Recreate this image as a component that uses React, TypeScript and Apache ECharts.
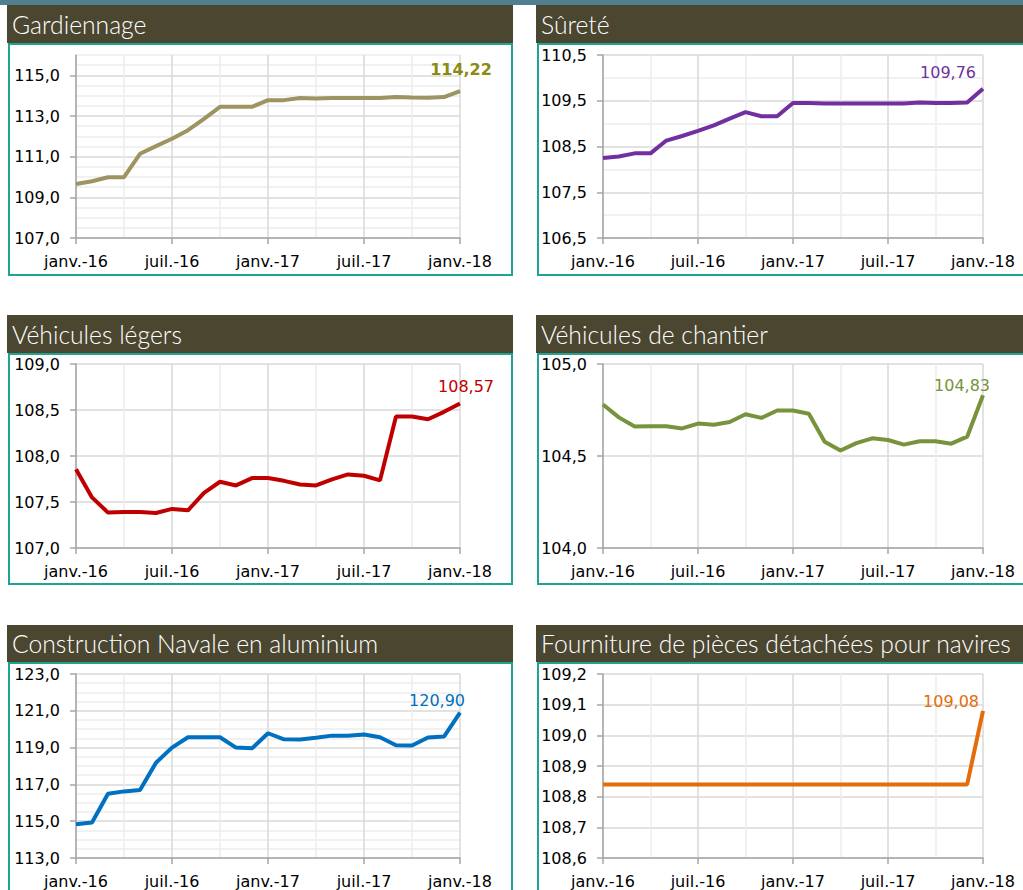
import React, { useEffect, useRef } from "react";
import * as echarts from "echarts";

const months = [
  "janv.-16", "févr.-16", "mars-16", "avr.-16", "mai-16", "juin-16",
  "juil.-16", "août-16", "sept.-16", "oct.-16", "nov.-16", "déc.-16",
  "janv.-17", "févr.-17", "mars-17", "avr.-17", "mai-17", "juin-17",
  "juil.-17", "août-17", "sept.-17", "oct.-17", "nov.-17", "déc.-17",
  "janv.-18",
];

const titles = [
  "Gardiennage",
  "Sûreté",
  "Véhicules légers",
  "Véhicules de chantier",
  "Construction Navale en aluminium",
  "Fourniture de pièces détachées pour navires",
];

const gardiennage = [109.66, 109.79, 109.99, 109.99, 111.14, 111.52, 111.88, 112.3, 112.86, 113.45, 113.45, 113.45, 113.78, 113.78, 113.88, 113.86, 113.88, 113.88, 113.88, 113.88, 113.93, 113.91, 113.9, 113.93, 114.22];
const surete = [108.25, 108.28, 108.35, 108.35, 108.63, 108.73, 108.84, 108.96, 109.11, 109.25, 109.16, 109.16, 109.45, 109.45, 109.44, 109.44, 109.44, 109.44, 109.44, 109.44, 109.46, 109.45, 109.45, 109.46, 109.76];
const vehiculesLegers = [107.855, 107.55, 107.385, 107.39, 107.39, 107.38, 107.425, 107.41, 107.6, 107.72, 107.68, 107.76, 107.76, 107.73, 107.69, 107.68, 107.745, 107.8, 107.785, 107.735, 108.43, 108.43, 108.4, 108.48, 108.57];
const vehiculesChantier = [104.78, 104.71, 104.66, 104.662, 104.662, 104.65, 104.676, 104.67, 104.685, 104.727, 104.707, 104.747, 104.747, 104.73, 104.578, 104.53, 104.57, 104.596, 104.587, 104.562, 104.58, 104.58, 104.567, 104.605, 104.83];
const constructionNavale = [114.84, 114.93, 116.49, 116.62, 116.69, 118.18, 119.0, 119.56, 119.56, 119.56, 119.0, 118.96, 119.78, 119.45, 119.44, 119.53, 119.65, 119.64, 119.71, 119.56, 119.13, 119.11, 119.55, 119.6, 120.9];
const fourniture = [108.84, 108.84, 108.84, 108.84, 108.84, 108.84, 108.84, 108.84, 108.84, 108.84, 108.84, 108.84, 108.84, 108.84, 108.84, 108.84, 108.84, 108.84, 108.84, 108.84, 108.84, 108.84, 108.84, 108.84, 109.08];

const seriesData = [gardiennage, surete, vehiculesLegers, vehiculesChantier, constructionNavale, fourniture];

// y-axis scales
const yMin = [107, 106.5, 107, 104, 113, 108.6];
const yMax = [116, 110.5, 109, 105, 123, 109.2];
const yInterval = [2, 1, 0.5, 0.5, 2, 0.1];
const yGridInterval = [0.5, 0.5, 0.5, 0.5, 0.5, 0.1];

const lineColors = ["#9d9462", "#7030a0", "#c00000", "#77933c", "#0070c0", "#e46c0a"];
const labelColors = ["#8b8a12", "#7030a0", "#c00000", "#77933c", "#0070c0", "#e46c0a"];

// layout
const colPlot = [
  { left: 76, width: 384 },
  { left: 603, width: 380 },
];
const rowPlot = [
  { top: 55, height: 183 },
  { top: 364, height: 184 },
  { top: 674, height: 184 },
];
const rowHeader = [
  { y: 5, h: 38 },
  { y: 315, h: 38 },
  { y: 625, h: 37 },
];
const rowBox = [
  { y: 44, h: 231 },
  { y: 354, h: 230 },
  { y: 663, h: 260 },
];
const colHeader = [
  { x: 7, w: 506 },
  { x: 536, w: 490 },
];
const colBox = [
  { x: 9, w: 503 },
  { x: 538, w: 500 },
];
const labelOffsets = [
  [1, -22],
  [-35, -16],
  [6, -17],
  [-21, -10],
  [-23, -12],
  [-32, -9],
];

const AXIS_FONT = "DejaVu Sans";
const TITLE_FONT = "Lato";
const GRID_MAJOR = "#d9d9d9";
const GRID_MINOR = "#ececec";
const AXIS_COLOR = "#a6a6a6";
const FONT_SIZE = 16;

function fmt(v: number, d: number) {
  return v.toFixed(d).replace(".", ",");
}

function buildOption() {
  const grid: any[] = [];
  const xAxis: any[] = [];
  const yAxis: any[] = [];
  const series: any[] = [];
  const graphic: any[] = [
    { type: "rect", shape: { x: 0, y: 0, width: 1023, height: 5 }, style: { fill: "#4f7f8e" }, silent: true },
  ];

  for (let i = 0; i < 6; i++) {
    const r = Math.floor(i / 2);
    const c = i % 2;
    graphic.push({
      type: "rect",
      shape: { x: colHeader[c].x, y: rowHeader[r].y, width: colHeader[c].w, height: rowHeader[r].h },
      style: { fill: "#4b4630" },
      silent: true,
    });
    graphic.push({
      type: "rect",
      shape: { x: colBox[c].x, y: rowBox[r].y, width: colBox[c].w, height: rowBox[r].h },
      style: { fill: "none", stroke: "#1fa393", lineWidth: 2 },
      silent: true,
    });
    graphic.push({
      type: "text",
      x: colHeader[c].x + 5,
      y: rowHeader[r].y + rowHeader[r].h / 2,
      style: {
        text: titles[i],
        fill: "#ffffff",
        font: `300 24.7px ${TITLE_FONT}`,
        verticalAlign: "middle",
        align: "left",
      },
      silent: true,
    });

    grid.push({
      left: colPlot[c].left,
      width: colPlot[c].width,
      top: rowPlot[r].top,
      height: rowPlot[r].height,
      containLabel: false,
    });

    xAxis.push({
      type: "category",
      gridIndex: i,
      data: months,
      boundaryGap: false,
      axisLine: { show: true, lineStyle: { color: AXIS_COLOR, width: 1.5 } },
      axisTick: { show: true, interval: (idx: number) => idx % 6 === 0, length: 6, lineStyle: { color: AXIS_COLOR, width: 1.5 } },
      axisLabel: {
        interval: (idx: number) => idx % 6 === 0,
        color: "#000",
        fontFamily: AXIS_FONT,
        fontSize: FONT_SIZE,
        margin: 15,
      },
      splitLine: {
        show: true,
        interval: (idx: number) => idx % 3 === 0,
        lineStyle: { color: [GRID_MAJOR, GRID_MINOR], width: 1.5 },
      },
    });

    yAxis.push({
      type: "value",
      gridIndex: i,
      min: yMin[i],
      max: yMax[i],
      interval: yInterval[i],
      position: "left",
      axisLine: { show: true, lineStyle: { color: AXIS_COLOR, width: 1.5 } },
      axisTick: { show: true, length: 6, lineStyle: { color: AXIS_COLOR, width: 1.5 } },
      axisLabel: {
        color: "#000",
        fontFamily: AXIS_FONT,
        fontSize: FONT_SIZE,
        margin: 16,
        showMaxLabel: i === 0 ? false : true,
        formatter: (v: number) => fmt(v, 1),
      },
      splitLine: { show: false },
      z: 3,
    });
    const ratio = Math.round(yInterval[i] / yGridInterval[i]);
    const pattern: string[] = [GRID_MAJOR];
    for (let k = 1; k < ratio; k++) pattern.push(GRID_MINOR);
    yAxis.push({
      type: "value",
      gridIndex: i,
      min: yMin[i],
      max: yMax[i],
      interval: yGridInterval[i],
      axisLine: { show: false },
      axisTick: { show: false },
      axisLabel: { show: false },
      splitLine: { show: true, lineStyle: { color: pattern, width: 1.5 } },
    });

    const vals = seriesData[i];
    const last = vals.length - 1;
    series.push({
      type: "line",
      xAxisIndex: i,
      yAxisIndex: 2 * i,
      symbol: "circle",
      symbolSize: 0,
      showSymbol: true,
      showAllSymbol: true,
      silent: true,
      lineStyle: { color: lineColors[i], width: 4 },
      itemStyle: { color: lineColors[i] },
      z: 5,
      data: vals.map((v, idx) =>
        idx === last
          ? {
              value: v,
              label: {
                show: true,
                position: "inside",
                offset: labelOffsets[i],
                formatter: () => fmt(v, 2),
                color: labelColors[i],
                fontFamily: AXIS_FONT,
                fontSize: FONT_SIZE,
                fontWeight: i === 0 ? "bold" : "normal",
              },
            }
          : v
      ),
    });
  }

  return {
    animation: false,
    backgroundColor: "#ffffff",
    grid,
    xAxis,
    yAxis,
    series,
    graphic,
  };
}

export default function App() {
  const ref = useRef<HTMLDivElement>(null);
  useEffect(() => {
    if (!ref.current) return;
    const chart = echarts.init(ref.current, null, { renderer: "svg" });
    chart.setOption(buildOption() as any);
    return () => chart.dispose();
  }, []);
  return (
    <div
      ref={ref}
      style={{ position: "absolute", left: 0, top: 0, width: 1023, height: 890 }}
    />
  );
}
